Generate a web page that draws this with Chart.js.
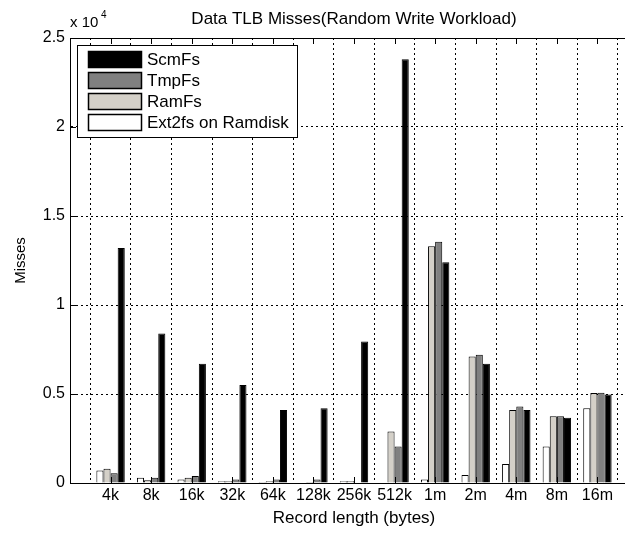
<!DOCTYPE html>
<html>
<head>
<meta charset="utf-8">
<script src="https://cdn.jsdelivr.net/npm/chart.js@4"></script>
<style>
  html, body { margin: 0; padding: 0; background: #fff; overflow: hidden; }
  #wrap { width: 645px; height: 533px; }
</style>
</head>
<body>
<div id="wrap"><canvas id="myChart" width="645" height="533"></canvas></div>
<script>
// record lengths
const categories = ['4k', '8k', '16k', '32k', '64k', '128k', '256k', '512k', '1m', '2m', '4m', '8m', '16m'];

// data TLB misses (bar order inside each group: Ext2fs, RamFs, TmpFs, ScmFs)
const ext2fs = [700, 300, 200, 100, 50, 0, 100, 0, 200, 450, 1070, 2050, 4200];
const ramfs = [800, 150, 300, 100, 100, 50, 100, 2900, 13300, 7100, 4100, 3750, 5060];
const tmpfs = [550, 300, 400, 200, 200, 200, 0, 2050, 13550, 7200, 4300, 3750, 5070];
const scmfs = [13200, 8400, 6700, 5500, 4100, 4200, 7950, 23800, 12400, 6700, 4100, 3670, 4970];

const yTicks = [0, 5000, 10000, 15000, 20000, 25000];

const seriesNames = ['Ext2fs on Ramdisk', 'RamFs', 'TmpFs', 'ScmFs'];
const seriesColors = ['#ffffff', '#d4d0c8', '#808080', '#000000'];

// one empty slot on each side, like the original axis limits
const pad = (arr) => [null, ...arr, null];
const labels = ['', ...categories, ''];

const FONT = 'Liberation Sans, Arial, sans-serif';

const framePlugin = {
    id: 'frame',
    afterDraw(chart) {
        const c = chart.ctx;
        const a = chart.chartArea;
        const xs = chart.scales.x;
        const ys = chart.scales.y;
        c.save();
        c.strokeStyle = '#000';
        c.lineWidth = 1;
        c.strokeRect(a.left + 0.5, a.top + 0.5, a.right - a.left, a.bottom - a.top);

        // inward tick marks
        c.beginPath();
        for (let i = 1; i < labels.length - 1; i++) {
            const x = Math.round(xs.getPixelForTick(i)) + 0.5;
            c.moveTo(x, a.top);
            c.lineTo(x, a.top + 6);
            c.moveTo(x, a.bottom);
            c.lineTo(x, a.bottom - 6);
        }
        yTicks.forEach(v => {
            const y = Math.round(ys.getPixelForValue(v)) + 0.5;
            c.moveTo(a.left, y);
            c.lineTo(a.left + 6, y);
        });
        c.stroke();

        // title
        c.fillStyle = '#000';
        c.font = '17px ' + FONT;
        c.textAlign = 'center';
        c.textBaseline = 'middle';
        c.fillText('Data TLB Misses(Random Write Workload)', (a.left + a.right) / 2, 19);

        // exponent label
        c.textAlign = 'left';
        c.font = '15px ' + FONT;
        c.fillText('x 10', a.left, 23);
        c.font = '10px ' + FONT;
        c.fillText('4', a.left + 31, 15);

        // legend box, top-left inside the axes
        const lx = a.left + 7, ly = a.top + 7, lw = 220, lh = 92;
        c.fillStyle = '#fff';
        c.fillRect(lx, ly, lw, lh);
        c.strokeRect(lx + 0.5, ly + 0.5, lw, lh);
        c.font = '17px ' + FONT;
        for (let k = 0; k < seriesNames.length; k++) {
            const s = seriesNames.length - 1 - k;
            const ry = ly + 6 + k * 21;
            c.fillStyle = seriesColors[s];
            c.fillRect(lx + 11, ry, 54, 17);
            c.strokeStyle = '#000';
            c.lineWidth = 1.5;
            c.strokeRect(lx + 11.5, ry + 0.5, 53, 16);
            c.fillStyle = '#000';
            c.fillText(seriesNames[s], lx + 70, ry + 9);
        }
        c.restore();
    }
};

const data1 = {
    labels: labels,
    datasets: [ext2fs, ramfs, tmpfs, scmfs].map((vals, i) => ({
        label: seriesNames[i],
        data: pad(vals),
        backgroundColor: seriesColors[i],
        borderColor: '#000',
        borderWidth: 1,
        barPercentage: 1,
        categoryPercentage: 0.7
    }))
};

const config1 = {
    type: 'bar',
    data: data1,
    options: {
        responsive: false,
        animation: false,
        layout: { padding: { top: 38, right: 7, left: 8, bottom: 0 } },
        plugins: {
            legend: { display: false },
            title: { display: false },
            tooltip: { enabled: false }
        },
        scales: {
            x: {
                offset: false,
                grid: { color: '#000', lineWidth: 1, drawTicks: false },
                border: { display: true, color: '#000', dash: [2, 3] },
                ticks: {
                    color: '#000',
                    font: { family: FONT, size: 16 },
                    padding: 3,
                    autoSkip: false,
                    maxRotation: 0
                },
                title: {
                    display: true,
                    text: 'Record length (bytes)',
                    color: '#000',
                    font: { family: FONT, size: 17 },
                    padding: { top: 0, bottom: 4 }
                },
                afterFit(scale) { scale.height = 50; }
            },
            y: {
                min: 0,
                max: 25000,
                afterBuildTicks(scale) { scale.ticks = yTicks.map(v => ({ value: v })); },
                grid: { color: '#000', lineWidth: 1, drawTicks: false },
                border: { display: true, color: '#000', dash: [2, 3] },
                ticks: {
                    color: '#000',
                    font: { family: FONT, size: 16 },
                    padding: 5,
                    callback: (v) => String(v / 10000)
                },
                title: {
                    display: true,
                    text: 'Misses',
                    color: '#000',
                    font: { family: FONT, size: 15 },
                    padding: 4
                },
                afterFit(scale) { scale.width = 62; }
            }
        }
    },
    plugins: [framePlugin]
};

// border.dash is applied to the grid lines too, which gives the dotted grid
const myChart = new Chart(document.getElementById('myChart').getContext('2d'), config1);
</script>
</body>
</html>
